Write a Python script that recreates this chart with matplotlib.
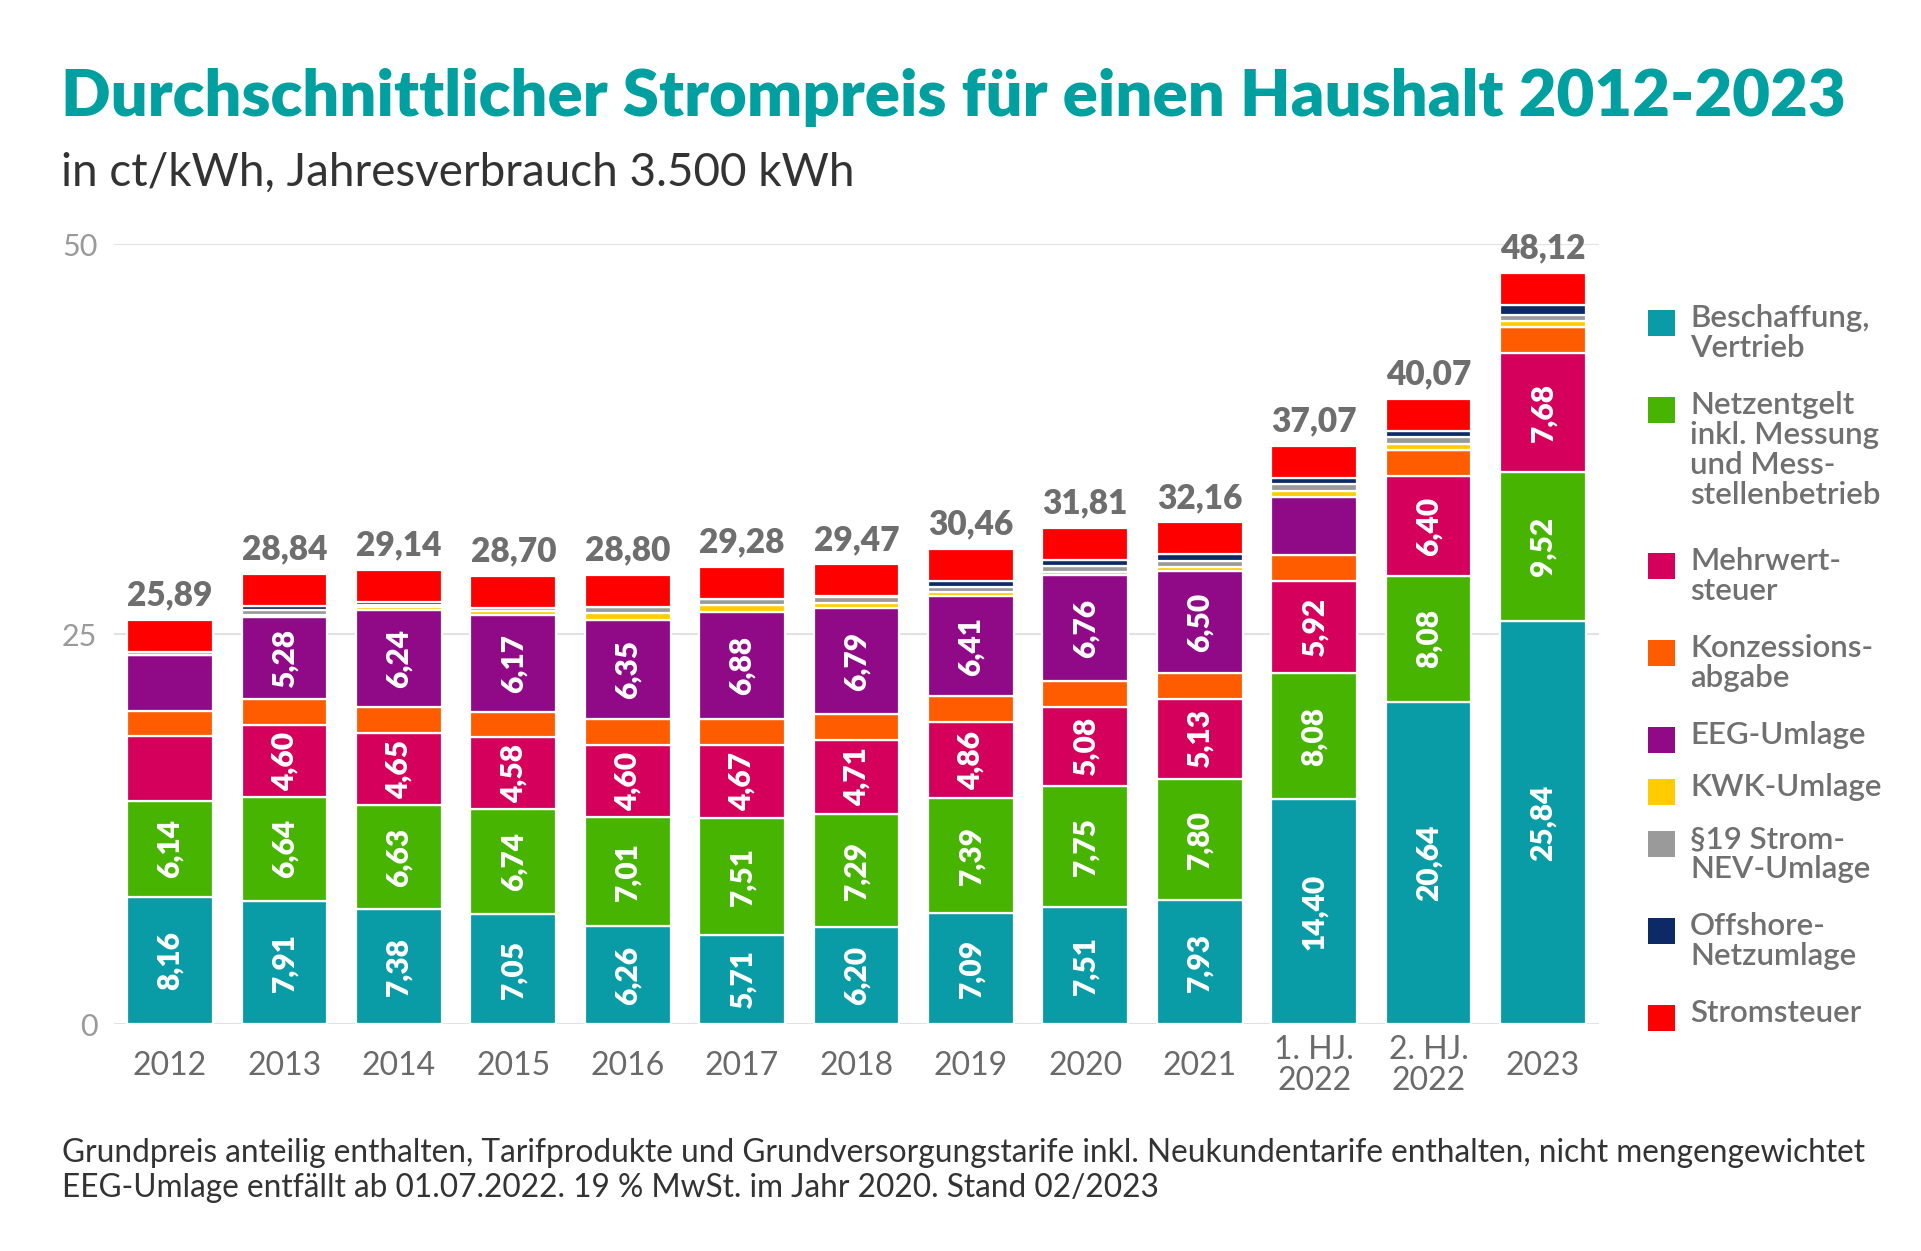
import matplotlib
matplotlib.use("Agg")
import matplotlib.pyplot as plt
from matplotlib.patches import Rectangle
import numpy as np

# ---------------- data ----------------
categories = ["2012", "2013", "2014", "2015", "2016", "2017", "2018", "2019",
              "2020", "2021", "1. HJ.\n2022", "2. HJ.\n2022", "2023"]
beschaffung = [8.16, 7.91, 7.38, 7.05, 6.26, 5.71, 6.20, 7.09, 7.51, 7.93, 14.40, 20.64, 25.84]
netzentgelt = [6.14, 6.64, 6.63, 6.74, 7.01, 7.51, 7.29, 7.39, 7.75, 7.80, 8.08, 8.08, 9.52]
mwst        = [4.13, 4.60, 4.65, 4.58, 4.60, 4.67, 4.71, 4.86, 5.08, 5.13, 5.92, 6.40, 7.68]
konzession  = [1.66, 1.66, 1.66, 1.66, 1.66, 1.66, 1.66, 1.66, 1.66, 1.66, 1.66, 1.66, 1.66]
eeg         = [3.59, 5.28, 6.24, 6.17, 6.35, 6.88, 6.79, 6.41, 6.76, 6.50, 3.72, 0.00, 0.00]
kwk         = [0.00, 0.13, 0.18, 0.25, 0.45, 0.44, 0.35, 0.28, 0.23, 0.25, 0.38, 0.38, 0.36]
par19       = [0.15, 0.33, 0.09, 0.24, 0.38, 0.39, 0.37, 0.31, 0.36, 0.43, 0.44, 0.44, 0.42]
offshore    = [0.00, 0.25, 0.25, 0.00, 0.04, 0.00, 0.04, 0.42, 0.42, 0.40, 0.42, 0.42, 0.59]
stromsteuer = [2.05, 2.05, 2.05, 2.05, 2.05, 2.05, 2.05, 2.05, 2.05, 2.05, 2.05, 2.05, 2.05]
totals      = [25.89, 28.84, 29.14, 28.70, 28.80, 29.28, 29.47, 30.46, 31.81, 32.16, 37.07, 40.07, 48.12]

series_names = ["Beschaffung,\nVertrieb",
                "Netzentgelt\ninkl. Messung\nund Mess-\nstellenbetrieb",
                "Mehrwert-\nsteuer",
                "Konzessions-\nabgabe",
                "EEG-Umlage",
                "KWK-Umlage",
                "§19 Strom-\nNEV-Umlage",
                "Offshore-\nNetzumlage",
                "Stromsteuer"]
series_values = [beschaffung, netzentgelt, mwst, konzession, eeg, kwk, par19, offshore, stromsteuer]
series_colors = ["#0A9CA6", "#46B400", "#D5005B", "#FF5C00", "#900A88",
                 "#FFCC00", "#9A9A9A", "#0B2A66", "#FF0000"]
labelled_series = [0, 1, 2, 4]
yticks = [0, 25, 50]

# ---------------- style ----------------
FONT = "Lato"
plt.rcParams["font.family"] = [FONT, "DejaVu Sans"]
W, H = 1921, 1251
fig = plt.figure(figsize=(W / 100, H / 100), dpi=100)
fig.patch.set_facecolor("white")

ax = fig.add_axes([114 / W, 1 - 1024 / H, (1599 - 114) / W, (1024 - 244) / H])
ax.set_facecolor("white")

x = np.arange(len(categories))
bottom = np.zeros(len(categories))
bw = 0.75
for i, (vals, col) in enumerate(zip(series_values, series_colors)):
    vals = np.array(vals, dtype=float)
    ax.bar(x, vals, bw, bottom=bottom, color=col, edgecolor="white",
           linewidth=1.6, zorder=3)
    if i in labelled_series:
        for xi, v, b in zip(x, vals, bottom):
            if v >= 4.5:
                ax.text(xi, b + v / 2, f"{v:.2f}".replace(".", ","), rotation=90,
                        ha="center", va="center", color="white", fontsize=21.5,
                        fontweight="heavy", zorder=4)
    bottom += vals

for xi, top, t in zip(x, bottom, totals):
    ax.text(xi, top + 0.55, f"{t:.2f}".replace(".", ","), ha="center", va="bottom",
            color="#6E6E6E", fontsize=24, fontweight="heavy", zorder=4, clip_on=False)

ax.set_xlim(-0.49, len(categories) - 1 + 0.49)
ax.set_ylim(0, 50)
ax.set_yticks(yticks)
ax.set_yticklabels([str(t) for t in yticks], color="#9A9A9A", fontsize=22)
ax.set_xticks(x)
ax.set_xticklabels(categories, color="#6A6A6A", fontsize=23, linespacing=1.06)
for lab in ax.get_xticklabels():
    lab.set_verticalalignment("center")
ax.tick_params(length=0, axis="y", pad=12)
ax.tick_params(length=0, axis="x", pad=30)
for s in ax.spines.values():
    s.set_visible(False)
ax.grid(axis="y", color="#E2E2E2", linewidth=1.5, zorder=0)
ax.set_axisbelow(True)

# ---------------- texts ----------------
def fit(txt, target_px):
    fig.canvas.draw()
    r = fig.canvas.get_renderer()
    w = txt.get_window_extent(r).width
    txt.set_fontsize(txt.get_fontsize() * target_px / w)

title = fig.text(61 / W, 1 - 116 / H, "Durchschnittlicher Strompreis für einen Haushalt 2012-2023",
                 color="#00A0A0", fontsize=48, fontweight="heavy", ha="left", va="baseline")
fit(title, 1785)
sub = fig.text(61 / W, 1 - 186 / H, "in ct/kWh, Jahresverbrauch 3.500 kWh",
               color="#333333", fontsize=30, ha="left", va="baseline")
fit(sub, 791)
foot1 = fig.text(62 / W, 1 - 1162 / H,
                 "Grundpreis anteilig enthalten, Tarifprodukte und Grundversorgungstarife inkl. Neukundentarife enthalten, nicht mengengewichtet",
                 color="#333333", fontsize=18, ha="left", va="baseline")
fit(foot1, 1794)
foot2 = fig.text(62 / W, 1 - 1197 / H,
                 "EEG-Umlage entfällt ab 01.07.2022. 19 % MwSt. im Jahr 2020. Stand 02/2023",
                 color="#333333", fontsize=foot1.get_fontsize(), ha="left", va="baseline")

# legend (manual)
legend_y = [323, 410, 566, 653, 740, 792, 844, 931, 1018]  # top-line centres in px
for name, col, yy in zip(series_names, series_colors, legend_y):
    fig.patches.append(Rectangle((1648 / W, 1 - (yy + 13) / H), 27 / W, 26 / H,
                                 transform=fig.transFigure, facecolor=col,
                                 edgecolor="none"))
    fig.text(1690 / W, 1 - (yy - 19) / H, name, color="#707070", fontsize=22.5,
             fontweight="semibold", ha="left", va="top", linespacing=1.08)

fig.savefig("out.png", dpi=100, facecolor="white")
